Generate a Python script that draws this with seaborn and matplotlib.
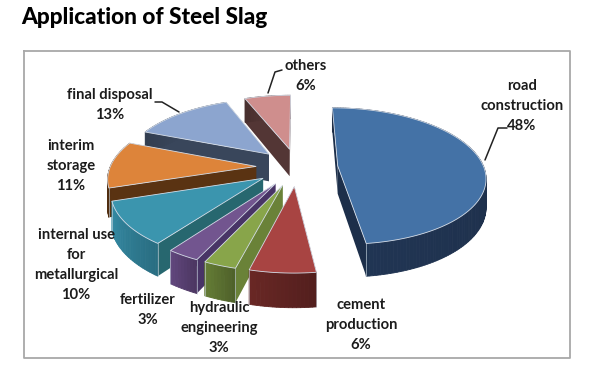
import numpy as np
import matplotlib.pyplot as plt
import matplotlib.colors as mcolors
import seaborn as sns

categories = ['road\nconstruction', 'cement\nproduction', 'hydraulic\nengineering', 'fertilizer',
              'internal use\nfor\nmetallurgical', 'interim\nstorage', 'final disposal', 'others']
values = [48, 6, 3, 3, 10, 11, 13, 6]

top_colors = ['#4472a6', '#a84442', '#88a54a', '#72558f', '#3b95ae', '#dd843a', '#8ca5cf', '#cf8e8d']
wall_colors = ['#1d2f4a', '#6a2826', '#6a8238', '#483466', '#27676f', '#5a3312', '#39465b', '#533635']
arc_colors = ['#1d2f4a', '#5e2321', '#5a6f30', '#573f70', '#2f7d94', '#5a3312', '#39465b', '#533635']
explode = [0.28, 0.28, 0.28, 0.28, 0.28, 0.28, 0.28, 0.28]
label_xy = [(522, 106), (361, 325), (219, 328), (148, 310), (76, 265), (71, 166), (110, 105), (306, 76)]

# fake 3d: perspective projection of the pie disc
cx, cy = 297, 167
rx, ry = 146, 67
k = 0.15
depth = 28

sns.set_theme(style='white')
plt.rcParams['font.family'] = ['Lato', 'DejaVu Sans']

fig = plt.figure(figsize=(5.9, 3.69), dpi=100)
ax = fig.add_axes([0, 0, 1, 1])
ax.set_xlim(0, 590)
ax.set_ylim(369, 0)
ax.axis('off')


def project(u, v, z=0):
    s = 1 / (1 + k * v)
    return cx + rx * u * s, cy - ry * v * s + depth * s * z


def face(pts, color, zorder, edge='none'):
    ax.fill([p[0] for p in pts], [p[1] for p in pts], color=color, ec=edge, lw=0.6, zorder=zorder)


edges = np.cumsum([0] + values) / sum(values) * 2 * np.pi
order = sorted(range(len(values)), key=lambda i: -np.cos((edges[i] + edges[i + 1]) / 2))

z = 2
for i in order:
    a0, a1 = edges[i], edges[i + 1]
    mid = (a0 + a1) / 2
    ou, ov = explode[i] * np.sin(mid), explode[i] * np.cos(mid)
    arc = np.linspace(a0, a1, max(int(values[i]) * 3, 10))
    au, av = ou + np.sin(arc), ov + np.cos(arc)

    # side walls, far ones first
    walls = []
    for ang in (a0, a1):
        eu, ev = ou + np.sin(ang), ov + np.cos(ang)
        pts = [project(ou, ov), project(eu, ev), project(eu, ev, 1), project(ou, ov, 1)]
        walls.append(((ov + ev) / 2, pts))
    for _, pts in sorted(walls, key=lambda w: -w[0]):
        face(pts, wall_colors[i], z)
        z += 1

    for j in np.argsort(-(av[:-1] + av[1:])):
        shade = 0.88 + 0.24 * (j / max(len(au) - 2, 1))
        col = np.clip(np.array(mcolors.to_rgb(arc_colors[i])) * shade, 0, 1)
        pts = [project(au[j], av[j]), project(au[j + 1], av[j + 1]),
               project(au[j + 1], av[j + 1], 1), project(au[j], av[j], 1)]
        face(pts, col, z, edge=col)
    z += 1

    # pale corner lines on the outer wall
    for end in (0, -1):
        if av[end] < ov + 0.3:
            p0, p1 = project(au[end], av[end]), project(au[end], av[end], 1)
            ax.plot([p0[0], p1[0]], [p0[1], p1[1]], color='#c8d4de', lw=0.6, alpha=0.7, zorder=z)
    z += 1

    top = [project(ou, ov)] + [project(a, b) for a, b in zip(au, av)]
    face(top, top_colors[i], z, edge='#d5dde8')
    z += 1

z += 1
for name, val, (x, y) in zip(categories, values, label_xy):
    ax.text(x, y, f'{name}\n{val}%', ha='center', va='center', fontsize=10.6, fontweight='bold',
            color='#1c1c1c', linespacing=1.54, zorder=z)

# leader lines
ax.plot([268, 275, 282], [93, 72, 70], color='#222222', lw=1.1, zorder=z)
ax.plot([155, 162, 179], [102, 102, 112], color='#222222', lw=1.1, zorder=z)
ax.plot([507, 498, 485], [128, 128, 160], color='#222222', lw=1.1, zorder=z)

# chart frame
ax.plot([24, 24, 570, 570, 24], [51, 358, 358, 51, 51], color='#a8a8a8', lw=1.3, zorder=1)

ax.text(21, 18, 'Application of Steel Slag', fontsize=16.3, fontweight='black', color='black', va='center', ha='left')

fig.savefig('out.png', dpi=100)
